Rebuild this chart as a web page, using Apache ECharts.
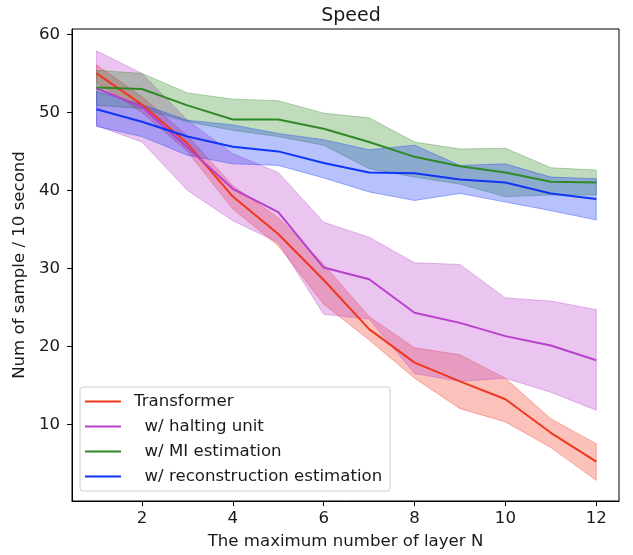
<!DOCTYPE html>
<html>
<head>
<meta charset="utf-8">
<script src="https://cdn.jsdelivr.net/npm/echarts@6/dist/echarts.min.js"></script>
<style>
  html, body { margin: 0; padding: 0; background: #fff; }
  #main { width: 633px; height: 555px; }
</style>
</head>
<body>
<div id="main"></div>
<script>
// x: maximum number of layers
const layers = [1, 2, 3, 4, 5, 6, 7, 8, 9, 10, 11, 12]
const xTicks = [2, 4, 6, 8, 10, 12]
const yTicks = [10, 20, 30, 40, 50, 60]

// Transformer
const transformer = [55.0, 51.0, 46.0, 39.2, 34.4, 28.5, 22.2, 17.9, 15.5, 13.2, 8.9, 5.2]
const transformerLow = [53.8, 50.0, 45.0, 37.6, 32.9, 25.4, 20.8, 15.9, 12.0, 10.3, 7.0, 2.8]
const transformerHigh = [56.1, 52.0, 47.0, 40.6, 36.5, 30.5, 23.8, 19.8, 18.9, 15.9, 10.7, 7.5]

// w/ halting unit
const halting = [53.1, 50.7, 45.5, 40.2, 37.2, 30.1, 28.6, 24.3, 23.0, 21.3, 20.1, 18.2]
const haltingLow = [48.3, 46.2, 40.0, 36.1, 33.3, 24.1, 23.5, 16.5, 15.5, 15.9, 14.1, 11.8]
const haltingHigh = [57.9, 55.0, 49.0, 44.7, 42.3, 35.9, 34.0, 30.7, 30.5, 26.2, 25.8, 24.7]

// w/ MI estimation
const mi = [53.2, 53.0, 50.9, 49.1, 49.1, 47.9, 46.2, 44.3, 43.1, 42.3, 41.1, 41.0]
const miLow = [50.9, 50.5, 48.8, 47.7, 46.9, 45.8, 42.8, 41.7, 40.8, 39.2, 39.4, 39.4]
const miHigh = [55.4, 55.0, 52.5, 51.7, 51.5, 49.9, 49.3, 46.2, 45.3, 45.4, 42.9, 42.6]

// w/ reconstruction estimation
const recon = [50.4, 48.8, 46.9, 45.6, 45.0, 43.5, 42.3, 42.2, 41.4, 41.0, 39.6, 38.9]
const reconLow = [48.2, 46.9, 44.5, 43.4, 43.2, 41.6, 39.8, 38.7, 39.6, 38.5, 37.4, 36.2]
const reconHigh = [52.7, 51.0, 49.0, 48.4, 47.3, 46.5, 45.2, 45.8, 43.2, 43.4, 41.7, 41.5]

const names = ['Transformer', '  w/ halting unit', '  w/ MI estimation', '  w/ reconstruction estimation']
const colors = ['#f0361d', '#b840cc', '#2f8a25', '#0f35f5']

const myChart = echarts.init(document.getElementById('main'))

// 阴影带: 一个多边形 (上沿 + 反向下沿)
function band(low, high, color) {
  return {
    type: 'custom',
    silent: true,
    data: layers.map((n, i) => [n, low[i], high[i]]),
    encode: { x: 0, y: [1, 2] },
    renderItem(params, api) {
      if (params.dataIndex !== 0) return null
      const top = layers.map((n, i) => api.coord([n, high[i]]))
      const bottom = layers.map((n, i) => api.coord([n, low[i]])).reverse()
      return {
        type: 'polygon',
        shape: { points: top.concat(bottom) },
        style: {
          fill: echarts.color.modifyAlpha(color, 0.3),
          stroke: echarts.color.modifyAlpha(color, 0.35),
          lineWidth: 1
        }
      }
    }
  }
}

function line(name, values, color) {
  return {
    name,
    type: 'line',
    data: layers.map((n, i) => [n, values[i]]),
    showSymbol: false,
    symbol: 'none',
    lineStyle: { color, width: 2 },
    itemStyle: { color },
    emphasis: { disabled: true }
  }
}

const lines = [transformer, halting, mi, recon]
const bands = [[transformerLow, transformerHigh], [haltingLow, haltingHigh], [miLow, miHigh], [reconLow, reconHigh]]
const series = []
lines.forEach((v, k) => {
  series.push(line(names[k], v, colors[k]))
  series.push(band(bands[k][0], bands[k][1], colors[k]))
})

const textColor = '#1a1a1a'
const font = 'DejaVu Sans'
const fs = 16.6

myChart.setOption({
  animation: false,
  title: {
    text: 'Speed',
    left: 346,
    textAlign: 'center',
    top: 2,
    textStyle: { fontFamily: font, fontSize: 19, fontWeight: 'normal', color: textColor }
  },
  grid: {
    left: 72, right: 14, top: 29, bottom: 54,
    show: true, borderColor: '#000', borderWidth: 1
  },
  legend: {
    data: names.map((n, k) => ({ name: n, icon: 'rect', itemStyle: { color: colors[k] } })),
    orient: 'vertical',
    left: 80, top: 387,
    itemWidth: 36, itemHeight: 2,
    itemGap: 8,
    padding: [6, 8, 6, 5],
    borderColor: '#cfcfcf', borderWidth: 1, borderRadius: 3,
    backgroundColor: 'rgba(255,255,255,0.8)',
    selectedMode: false,
    textStyle: { fontFamily: font, fontSize: fs, color: textColor, padding: [0, 0, 0, 8] }
  },
  xAxis: {
    type: 'value',
    min: 0.46, max: 12.5,
    name: 'The maximum number of layer N',
    nameLocation: 'middle', nameGap: 32,
    nameTextStyle: { fontFamily: font, fontSize: fs, color: textColor },
    axisLine: { lineStyle: { color: '#000', width: 1 } },
    axisTick: { customValues: xTicks, length: 5, lineStyle: { color: '#000' } },
    axisLabel: { customValues: xTicks, margin: 9, fontFamily: font, fontSize: fs, color: textColor },
    splitLine: { show: false }
  },
  yAxis: {
    type: 'value',
    min: 0.15, max: 60.7,
    name: 'Num of sample / 10 second',
    nameLocation: 'middle', nameGap: 42,
    nameTextStyle: { fontFamily: font, fontSize: fs, color: textColor },
    axisLine: { show: true, lineStyle: { color: '#000', width: 1 } },
    axisTick: { show: true, customValues: yTicks, length: 5, lineStyle: { color: '#000' } },
    axisLabel: { customValues: yTicks, margin: 12, fontFamily: font, fontSize: fs, color: textColor },
    splitLine: { show: false }
  },
  series
})
</script>
</body>
</html>
